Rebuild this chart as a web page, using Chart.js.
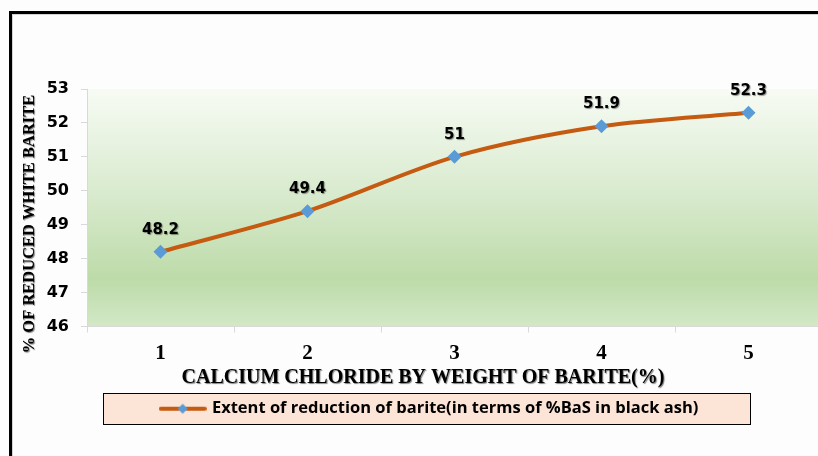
<!doctype html>
<html lang="en-US">

<head>
    <meta charset="UTF-8" />
    <title>Calcium chloride vs reduced white barite</title>
    <style>
        html, body { margin: 0; padding: 0; width: 818px; height: 456px; overflow: hidden; background: #fdfdfd; }
        #frame { position: absolute; left: 9px; top: 11px; width: 900px; height: 500px;
                 border-top: 3px solid #000; border-left: 3px solid #000; box-shadow: inset 1px 1px 0 #d4d4d4; }
        #wrap { position: absolute; left: 13px; top: 15px; width: 828px; height: 441px; }
    </style>
    <script src="https://cdn.jsdelivr.net/npm/chart.js"></script>
</head>

<body>
    <div id="frame"></div>
    <div id="wrap"><canvas id="chart"></canvas></div>

    <script>
        // Data.
        const CATEGORIES = ['1', '2', '3', '4', '5'];
        const REDUCTION = [48.2, 49.4, 51, 51.9, 52.3];
        const Y_MIN = 46;
        const Y_MAX = 53;
        const Y_STEP = 1;

        const SERIES_LABEL = 'Extent of reduction of barite(in terms of %BaS in black ash)';
        const X_TITLE = 'CALCIUM CHLORIDE BY WEIGHT OF BARITE(%)';
        const Y_TITLE = '% OF REDUCED WHITE BARITE';

        const LINE = '#c55a11';
        const MARK = '#5b9bd5';
        const AXIS = '#d9d9d9';

        // Legend marker: line with a diamond on it, like the spreadsheet one.
        function legendMarker() {
            let c = document.createElement('canvas');
            c.width = 48;
            c.height = 12;
            let g = c.getContext('2d');
            g.strokeStyle = LINE;
            g.lineWidth = 4;
            g.lineCap = 'round';
            g.beginPath();
            g.moveTo(2, 6);
            g.lineTo(46, 6);
            g.stroke();
            g.fillStyle = MARK;
            g.beginPath();
            g.moveTo(24, 1);
            g.lineTo(29, 6);
            g.lineTo(24, 11);
            g.lineTo(19, 6);
            g.closePath();
            g.fill();
            return c;
        }

        // Green plot fill and the peach legend box.
        const backdrop = {
            id: 'backdrop',
            beforeDraw(chart) {
                let { ctx, chartArea: a } = chart;
                ctx.save();
                let grad = ctx.createLinearGradient(0, a.top, 0, a.bottom);
                grad.addColorStop(0, '#f7fbf4');
                grad.addColorStop(0.45, '#d8eacd');
                grad.addColorStop(0.8, '#bddba9');
                grad.addColorStop(1, '#d3e8c7');
                ctx.fillStyle = grad;
                ctx.fillRect(a.left, a.top, a.right - a.left, a.bottom - a.top);

                let lg = chart.legend;
                let cy = lg.top + lg.options.labels.padding + 8;
                ctx.fillStyle = '#fce4d6';
                ctx.strokeStyle = '#000';
                ctx.lineWidth = 1;
                ctx.fillRect(90, cy - 15.5, 648, 31);
                ctx.strokeRect(90.5, cy - 15, 647, 31);
                ctx.restore();
            },
        };

        // Value above each point.
        const valueLabels = {
            id: 'valueLabels',
            afterDatasetsDraw(chart) {
                let ctx = chart.ctx;
                let meta = chart.getDatasetMeta(0);
                ctx.save();
                ctx.font = 'bold 15px "DejaVu Sans"';
                ctx.textAlign = 'center';
                ctx.textBaseline = 'middle';
                ctx.fillStyle = '#000';
                ctx.shadowColor = 'rgba(0,0,0,0.4)';
                ctx.shadowOffsetX = 1;
                ctx.shadowOffsetY = 1;
                ctx.shadowBlur = 1;
                meta.data.forEach((pt, i) => {
                    ctx.fillText(String(REDUCTION[i]), pt.x, pt.y - 22);
                });
                ctx.restore();
            },
        };

        // Axis titles, placed where the spreadsheet put them.
        const axisTitles = {
            id: 'axisTitles',
            afterDraw(chart) {
                let ctx = chart.ctx;
                ctx.save();
                ctx.fillStyle = '#000';
                ctx.textAlign = 'center';
                ctx.textBaseline = 'middle';
                ctx.shadowColor = 'rgba(0,0,0,0.5)';
                ctx.shadowOffsetX = 1;
                ctx.shadowOffsetY = 1;
                ctx.shadowBlur = 1;
                ctx.font = 'bold 20px "Liberation Serif"';
                ctx.fillText(X_TITLE, 410, 363);
                ctx.translate(17, 209);
                ctx.rotate(-Math.PI / 2);
                ctx.font = 'bold 16.5px "Liberation Serif"';
                ctx.fillText(Y_TITLE, 0, 0);
                ctx.restore();
            },
        };

        const ctx = document.getElementById('chart');

        let chart = new Chart(ctx, {
            type: 'line',
            data: {
                labels: CATEGORIES,
                datasets: [
                    {
                        label: SERIES_LABEL,
                        data: REDUCTION,
                        borderColor: LINE,
                        backgroundColor: MARK,
                        borderWidth: 4,
                        tension: 0.3,
                        pointStyle: 'rectRot',
                        pointRadius: 7,
                        pointBorderWidth: 0,
                        pointBackgroundColor: MARK,
                        pointBorderColor: MARK,
                    },
                ],
            },
            options: {
                responsive: true,
                maintainAspectRatio: false,
                animation: false,
                layout: { padding: { left: 25, right: 19, top: 74, bottom: 29 } },
                plugins: {
                    tooltip: { enabled: false },
                    legend: {
                        position: 'bottom',
                        labels: {
                            usePointStyle: true,
                            pointStyle: legendMarker(),
                            pointStyleWidth: 42,
                            padding: 10,
                            color: '#000',
                            font: { family: 'Open Sans', size: 16.5, weight: 'bold' },
                        },
                    },
                },
                scales: {
                    x: {
                        offset: true,
                        grid: { offset: true, drawOnChartArea: false, color: AXIS, tickLength: 6 },
                        border: { color: AXIS },
                        ticks: {
                            padding: 8,
                            color: '#000',
                            font: { family: 'Liberation Serif', size: 21, weight: 'bold' },
                        },
                        afterFit(scale) {
                            scale.height = 64;
                        },
                    },
                    y: {
                        min: Y_MIN,
                        max: Y_MAX,
                        ticks: {
                            stepSize: Y_STEP,
                            padding: 12,
                            color: '#000',
                            font: { family: 'DejaVu Sans', size: 16, weight: 'bold' },
                        },
                        grid: { drawOnChartArea: false, color: AXIS, tickLength: 6 },
                        border: { color: AXIS },
                        afterFit(scale) {
                            scale.width = 49;
                        },
                    },
                },
            },
            plugins: [backdrop, valueLabels, axisTitles],
        });
    </script>
</body>

</html>
